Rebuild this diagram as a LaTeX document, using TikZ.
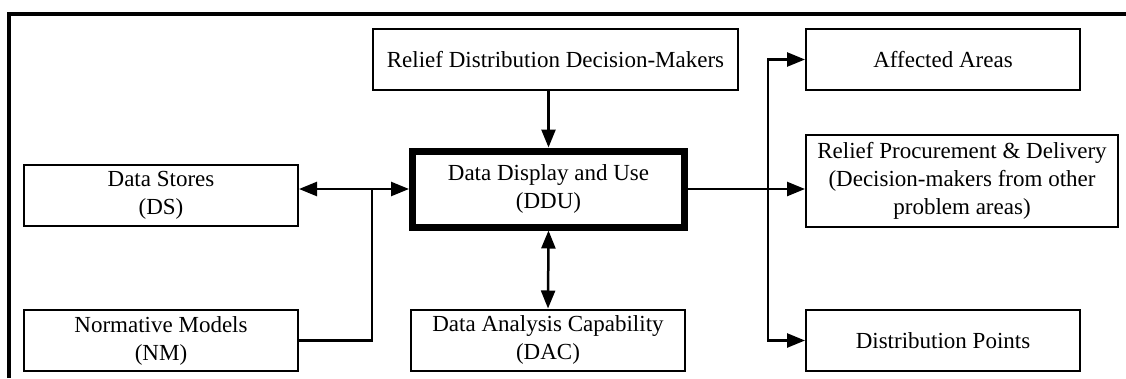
\documentclass[tikz,border=0pt]{standalone}
\usepackage{fontspec}
\setmainfont{Liberation Serif}
\usetikzlibrary{arrows.meta}

\begin{document}
\begin{tikzpicture}[x=1pt,y=-1pt,
every node/.style={anchor=center,
line width=2pt,
minimum width = 274pt,
minimum height = 61pt,
align=center,
inner sep=0pt,
font=\fontsize{23}{28}\selectfont,
draw
},
wide/.style={%
minimum width=365pt
},
core/.style={%
line width=7pt,
minimum width=272pt,
minimum height=76pt
},
tall/.style={%
minimum width=312pt,
minimum height=92pt
},
link/.style={line width=2.5pt},
arr/.style={link,-{Triangle[length=18pt,width=14pt]}},
dbl/.style={link,{Triangle[length=18pt,width=14pt]}-{Triangle[length=18pt,width=14pt]}}]
\useasboundingbox (0,0) rectangle (1126,378);
% frame
\draw[line width=4pt] (9,378) -- (9,14) -- (1126,14);
\node[wide]at(555.5,59.5)(rdm){Relief Distribution Decision-Makers};
\node[core]at(548.5,189)(ddu){Data Display and Use\\(DDU)};
\node[]at(161,195.5)(ds){Data Stores\\(DS)};
\node[]at(161,340.5)(nm){Normative Models\\(NM)};
\node[]at(548,340)(dac){Data Analysis Capability\\(DAC)};
\node[]at(943,59.5)(aa){Affected Areas};
\node[tall]at(962,181)(rpd){Relief Procurement \& Delivery\\(Decision-makers from other\\problem areas)};
\node[]at(943,340.5)(dp){Distribution Points};
\coordinate (jl) at (372,189);
\coordinate (jr) at (768,189);
\draw [arr] (rdm.south -| ddu.north)--(ddu.north);
\draw [dbl] (ddu.south)--(dac.north);
\draw [dbl] (ds.east |- ddu.west)--(ddu.west);
\draw [link] (nm.east) -| (jl);
\draw [arr] (ddu.east)--(ddu.east -| rpd.west);
\draw [arr] (jr) |- (aa.west);
\draw [arr] (jr) |- (dp.west);
\end{tikzpicture}
\end{document}
